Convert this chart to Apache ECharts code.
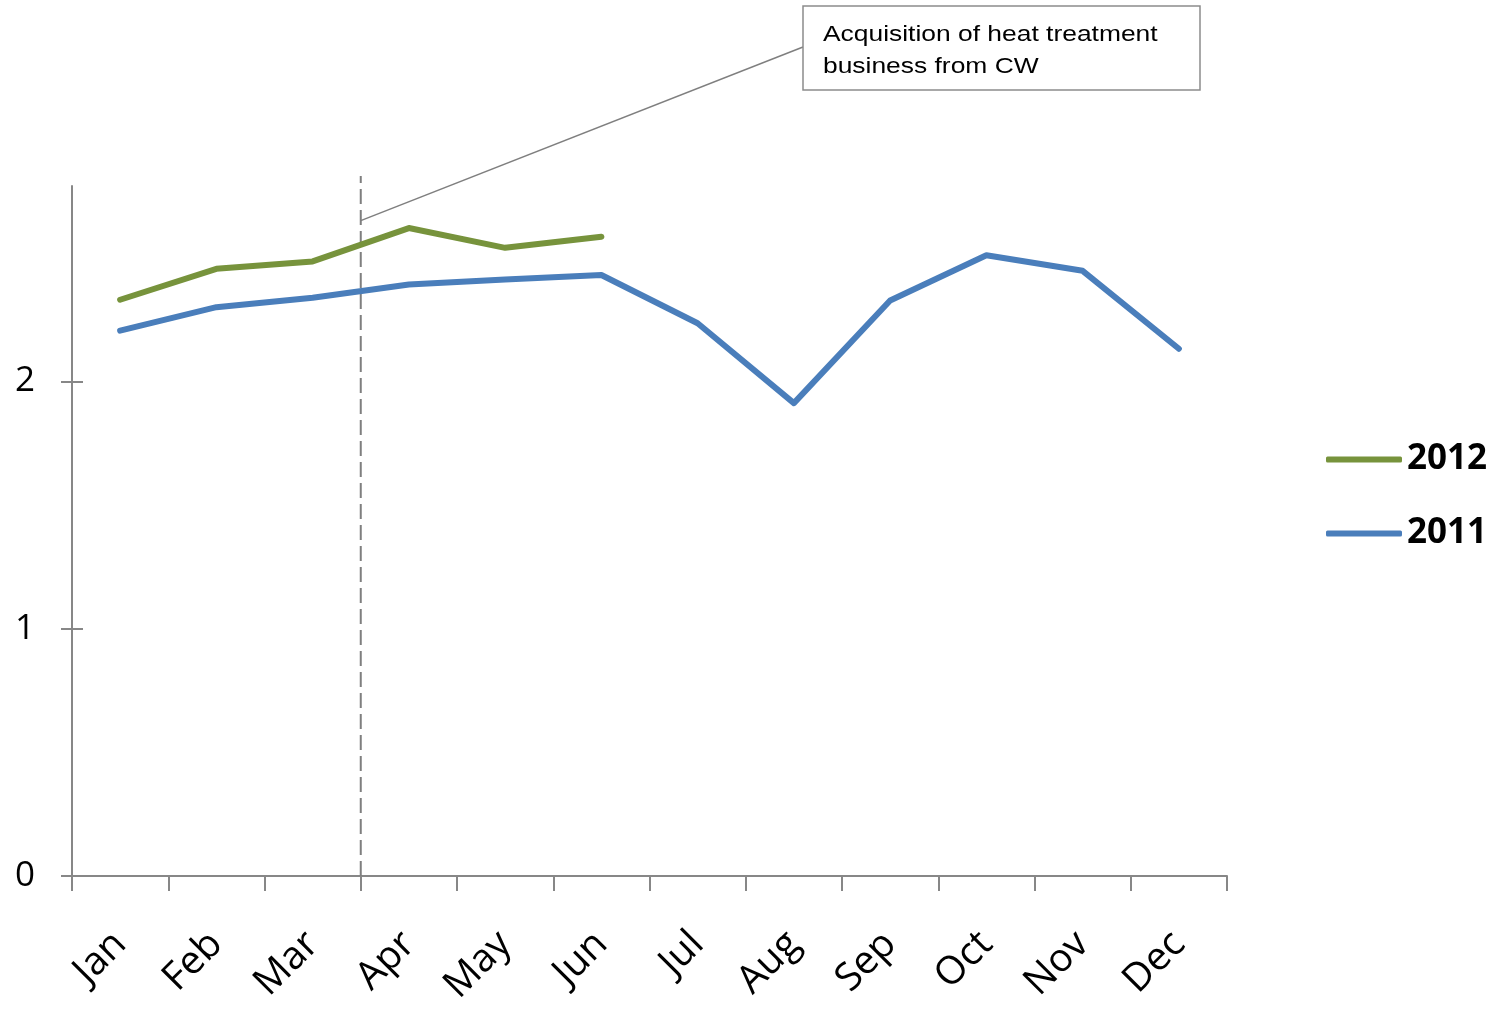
<!DOCTYPE html>
<html>
<head>
<meta charset="utf-8">
<title>Monthly index 2011 vs 2012</title>
<script src="https://cdn.jsdelivr.net/npm/echarts@6/dist/echarts.min.js"></script>
<style>
  html, body { margin: 0; padding: 0; background: #ffffff; }
  #chart { width: 1495px; height: 1009px; }
</style>
</head>
<body>
<div id="chart"></div>
<script>
// Months on the category axis
const months = ['Jan', 'Feb', 'Mar', 'Apr', 'May', 'Jun', 'Jul', 'Aug', 'Sep', 'Oct', 'Nov', 'Dec'];
// 2012 values (first half only)
const values2012 = [2.33, 2.455, 2.485, 2.62, 2.54, 2.585];
// 2011 values (full year)
const values2011 = [2.205, 2.3, 2.338, 2.392, 2.412, 2.43, 2.235, 1.912, 2.327, 2.51, 2.447, 2.132];
// Y tick labels
const yTicks = [0, 1, 2];
// The event note and the month after which it happened
const noteLines = ['Acquisition of heat treatment', 'business from CW'];
const eventAfterMonth = 'Mar';

const GREEN = '#77933C';
const BLUE = '#4A7EBB';
const AXIS = '#878787';
const FONT = '"Open Sans", "Noto Sans", sans-serif';

const chart = echarts.init(document.getElementById('chart'), null, { renderer: 'canvas' });

const option = {
  animation: false,
  backgroundColor: '#ffffff',
  grid: { left: 72, right: 268, top: 186, bottom: 133, containLabel: false },
  legend: {
    orient: 'vertical',
    left: 1321,
    top: 437,
    data: ['2012', '2011'],
    icon: 'roundRect',
    itemWidth: 76,
    itemHeight: 6,
    itemGap: 39,
    textStyle: { fontFamily: FONT, fontWeight: 'bold', fontSize: 35, color: '#000000' }
  },
  xAxis: {
    type: 'category',
    data: months,
    boundaryGap: true,
    axisLine: { lineStyle: { color: AXIS, width: 2 } },
    axisTick: { show: true, length: 15, lineStyle: { color: AXIS, width: 2 }, alignWithLabel: false },
    axisLabel: {
      rotate: 45,
      interval: 0,
      margin: 62,
      fontFamily: FONT,
      fontSize: 39,
      color: '#000000'
    },
    splitLine: { show: false }
  },
  yAxis: [
    {
      type: 'value',
      min: 0,
      max: 2.79,
      interval: 1,
      axisLine: { show: true, lineStyle: { color: AXIS, width: 2 } },
      axisTick: { show: true, length: 11, customValues: yTicks, lineStyle: { color: AXIS, width: 2 } },
      axisLabel: {
        customValues: yTicks,
        margin: 37,
        fontFamily: FONT,
        fontSize: 35,
        color: '#000000'
      },
      splitLine: { show: false }
    },
    {
      // inner half of the cross ticks on the value axis
      type: 'value',
      position: 'left',
      min: 0,
      max: 2.79,
      interval: 1,
      axisLine: { show: false },
      axisTick: { show: true, inside: true, length: 11, customValues: yTicks, lineStyle: { color: AXIS, width: 2 } },
      axisLabel: { show: false },
      splitLine: { show: false }
    }
  ],
  series: [
    {
      name: '2012',
      type: 'line',
      data: values2012,
      symbol: 'none',
      color: GREEN,
      lineStyle: { color: GREEN, width: 6, cap: 'round', join: 'round' },
      z: 3
    },
    {
      name: '2011',
      type: 'line',
      data: values2011,
      symbol: 'none',
      color: BLUE,
      lineStyle: { color: BLUE, width: 6, cap: 'round', join: 'round' },
      z: 2
    }
  ]
};

chart.setOption(option);

// Event marker: dashed line between the event month and the next one, with a callout
const idx = months.indexOf(eventAfterMonth);
const xA = chart.convertToPixel({ xAxisIndex: 0 }, months[idx]);
const xB = chart.convertToPixel({ xAxisIndex: 0 }, months[idx + 1]);
const xEvent = (xA + xB) / 2;
const yBase = chart.convertToPixel({ yAxisIndex: 0 }, 0);
const yTop = chart.convertToPixel({ yAxisIndex: 0 }, 2.83);
const yLeader = chart.convertToPixel({ yAxisIndex: 0 }, 2.65);

const box = { x: 803, y: 6, w: 397, h: 84 };

chart.setOption({
  graphic: [
    {
      type: 'line',
      shape: { x1: xEvent, y1: yBase, x2: xEvent, y2: yTop },
      style: { stroke: '#7f7f7f', lineWidth: 2, lineDash: [15, 6] },
      z: 1
    },
    {
      type: 'line',
      shape: { x1: xEvent, y1: yLeader, x2: box.x, y2: box.y + 41 },
      style: { stroke: '#7f7f7f', lineWidth: 1.5 },
      z: 5
    },
    {
      type: 'rect',
      shape: { x: box.x, y: box.y, width: box.w, height: box.h },
      style: { fill: '#ffffff', stroke: '#8c8c8c', lineWidth: 1.5 },
      z: 6
    },
    {
      type: 'text',
      x: box.x + 20,
      y: box.y + 13,
      scaleX: 1.2,
      style: {
        text: noteLines.join('\n'),
        font: '22px "Liberation Sans", Arial, sans-serif',
        lineHeight: 32,
        fill: '#000000'
      },
      z: 7
    }
  ]
});
</script>
</body>
</html>
